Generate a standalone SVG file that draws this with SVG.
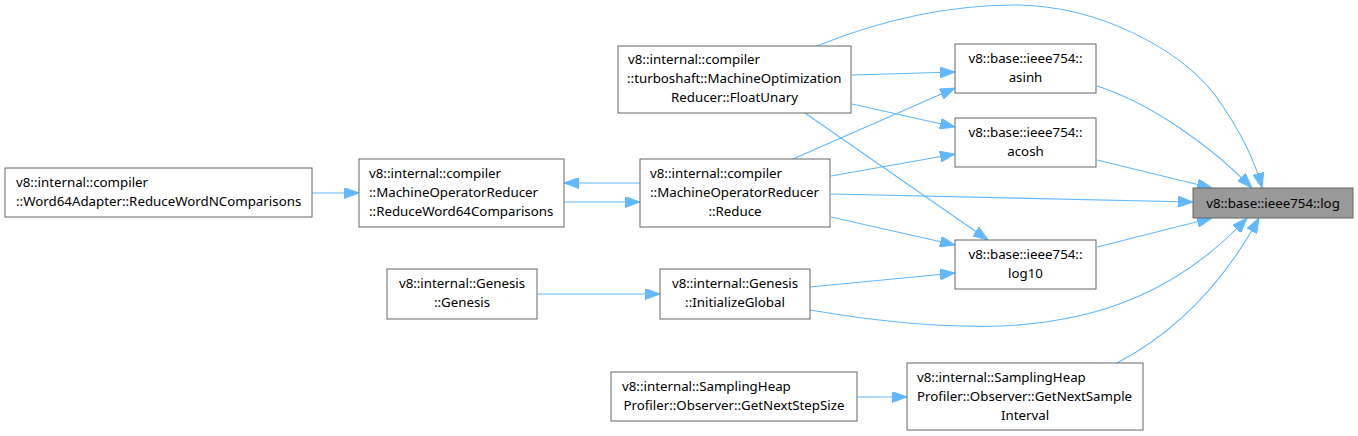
<svg xmlns="http://www.w3.org/2000/svg" width="1358" height="436" viewBox="0 0 1358 436">
<style>
.node rect{fill:#ffffff;stroke:#666666;stroke-width:1}
.node.hl rect{fill:#999999}
.node text{font-family:"Noto Sans","DejaVu Sans",sans-serif;font-size:13.3px;fill:#000000}
.c{text-anchor:middle}
.s{text-anchor:start}
.edges path{fill:none;stroke:#63b8ff;stroke-width:1.1;marker-end:url(#ah)}
</style>
<defs>
<marker id="ah" markerUnits="userSpaceOnUse" markerWidth="15" markerHeight="11" viewBox="0 0 15 11" refX="15" refY="5.5" orient="auto">
<path d="M0,0 L15,5.5 L0,11 Z" fill="#63b8ff" stroke="#63b8ff" stroke-width="1"/>
</marker>
</defs>
<rect width="1358" height="436" fill="#ffffff"/>
<g id="edges" class="edges">
<path d="M817,46 C880,20 950,5 1013,5 C1100,5 1180,50 1215,95 C1240,130 1255,160 1262,188"/>
<path d="M1097,86 C1150,103 1210,145 1252,188"/>
<path d="M1097,160 L1212,188"/>
<path d="M831,194 L1193,202"/>
<path d="M1097,247 L1212,218"/>
<path d="M810,310 C880,322 940,328 1000,326 C1100,322 1180,290 1247,218"/>
<path d="M1117,363 C1180,330 1225,280 1259,218"/>
<path d="M852,75 L955,72"/>
<path d="M793,159 L955,88"/>
<path d="M852,104 L955,127"/>
<path d="M831,176 L955,154"/>
<path d="M805,113 L988,240"/>
<path d="M831,217 L955,245"/>
<path d="M810,287 L955,273"/>
<path d="M640,183 L564,183"/>
<path d="M564,202 L640,202"/>
<path d="M312,193 L359,193"/>
<path d="M537,294 L660,294"/>
<path d="M857,397 L907,397"/>
</g>
<g id="n_log" class="node hl">
<rect x="1193" y="188" width="160" height="30"/>
<text class="c" x="1273" y="207.5">v8::base::ieee754::log</text>
</g>
<g id="n_asinh" class="node">
<rect x="955" y="44" width="141" height="49"/>
<text class="c" x="1025.5" y="63">v8::base::ieee754::</text>
<text class="c" x="1025.5" y="82">asinh</text>
</g>
<g id="n_acosh" class="node">
<rect x="955" y="118" width="141" height="49"/>
<text class="c" x="1025.5" y="137">v8::base::ieee754::</text>
<text class="c" x="1025.5" y="156">acosh</text>
</g>
<g id="n_log10" class="node">
<rect x="955" y="240" width="141" height="49"/>
<text class="c" x="1025.5" y="259">v8::base::ieee754::</text>
<text class="c" x="1025.5" y="278">log10</text>
</g>
<g id="n_floatunary" class="node">
<rect x="618" y="46" width="233" height="67"/>
<text class="s" x="628" y="64">v8::internal::compiler</text>
<text class="s" x="627" y="83">::turboshaft::MachineOptimization</text>
<text class="c" x="734.5" y="102">Reducer::FloatUnary</text>
</g>
<g id="n_reduce" class="node">
<rect x="640" y="159" width="190" height="68"/>
<text class="s" x="650" y="177.5">v8::internal::compiler</text>
<text class="s" x="650" y="196.5">::MachineOperatorReducer</text>
<text class="c" x="735" y="215.5">::Reduce</text>
</g>
<g id="n_rw64c" class="node">
<rect x="359" y="159" width="205" height="68"/>
<text class="s" x="369" y="177.5">v8::internal::compiler</text>
<text class="s" x="369" y="196.5">::MachineOperatorReducer</text>
<text class="s" x="369" y="215.5">::ReduceWord64Comparisons</text>
</g>
<g id="n_w64a" class="node">
<rect x="5" y="168" width="307" height="49"/>
<text class="s" x="16" y="187">v8::internal::compiler</text>
<text class="s" x="16" y="206">::Word64Adapter::ReduceWordNComparisons</text>
</g>
<g id="n_genesis" class="node">
<rect x="387" y="269" width="150" height="50"/>
<text class="c" x="462" y="288">v8::internal::Genesis</text>
<text class="c" x="462" y="307">::Genesis</text>
</g>
<g id="n_initglobal" class="node">
<rect x="660" y="269" width="150" height="50"/>
<text class="c" x="735" y="288">v8::internal::Genesis</text>
<text class="c" x="735" y="307">::InitializeGlobal</text>
</g>
<g id="n_stepsize" class="node">
<rect x="611" y="372" width="246" height="49"/>
<text class="s" x="622" y="391">v8::internal::SamplingHeap</text>
<text class="c" x="734" y="410">Profiler::Observer::GetNextStepSize</text>
</g>
<g id="n_sampleinterval" class="node">
<rect x="907" y="363" width="236" height="67"/>
<text class="s" x="917" y="381.5">v8::internal::SamplingHeap</text>
<text class="s" x="917" y="400.5">Profiler::Observer::GetNextSample</text>
<text class="c" x="1025" y="419.5">Interval</text>
</g>
</svg>
